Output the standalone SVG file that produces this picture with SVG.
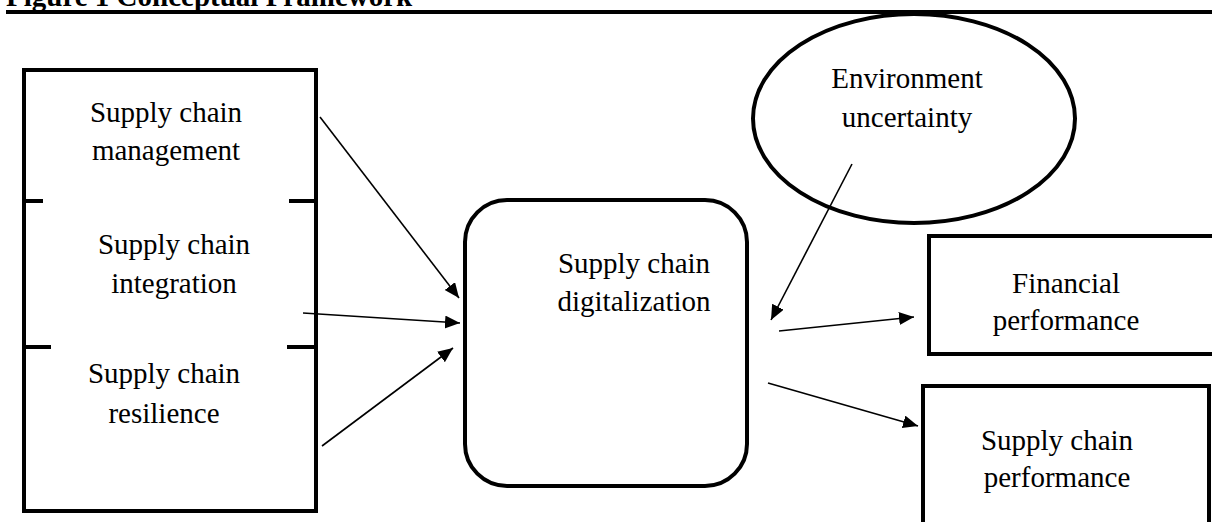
<svg xmlns="http://www.w3.org/2000/svg" width="1212" height="522" viewBox="0 0 1212 522">
<style>
text{font-family:"Liberation Serif","Times New Roman",serif;font-size:29px;fill:#000;text-anchor:middle}
.title{font-weight:bold;text-anchor:start}
.box{fill:#fff;stroke:#000;stroke-width:4}
.tick{stroke:#000;stroke-width:4;fill:none}
.conn{stroke:#000;stroke-width:1.6;fill:none;marker-end:url(#ah)}
</style>
<defs>
<marker id="ah" markerUnits="userSpaceOnUse" markerWidth="18" markerHeight="16" refX="15" refY="6.5" orient="auto">
<path d="M0,0 L15,6.5 L0,13 Z" fill="#000"/>
</marker>
</defs>
<rect width="1212" height="522" fill="#fff"/>
<g id="title">
<text class="title" x="6" y="6">Figure 1 Conceptual Framework</text>
<line x1="6" y1="12" x2="1212" y2="12" stroke="#000" stroke-width="4"/>
</g>
<g id="left-group">
<rect class="box" x="24" y="70" width="292" height="441"/>
<path class="tick" d="M24,201 H43 M289,201 H316 M24,347 H51 M287,347 H316"/>
</g>
<g id="scm">
<text x="166" y="122">Supply chain</text>
<text x="166" y="160">management</text>
</g>
<g id="sci">
<text x="174" y="254">Supply chain</text>
<text x="174" y="293">integration</text>
</g>
<g id="scr">
<text x="164" y="383">Supply chain</text>
<text x="164" y="423">resilience</text>
</g>
<g id="scd">
<rect class="box" x="465" y="200" width="282" height="286" rx="42" ry="42"/>
<text x="634" y="273">Supply chain</text>
<text x="634" y="311">digitalization</text>
</g>
<g id="eu">
<ellipse class="box" cx="914" cy="118.5" rx="161" ry="104.5"/>
<text x="907" y="88">Environment</text>
<text x="907" y="127">uncertainty</text>
</g>
<g id="fp">
<rect class="box" x="929" y="236" width="300" height="118"/>
<text x="1066" y="293">Financial</text>
<text x="1066" y="330">performance</text>
</g>
<g id="scp">
<rect class="box" x="923" y="386" width="286" height="150"/>
<text x="1057" y="450">Supply chain</text>
<text x="1057" y="487">performance</text>
</g>
<g id="connectors">
<line class="conn" x1="320" y1="117" x2="459" y2="298"/>
<line class="conn" x1="303" y1="313" x2="460" y2="323"/>
<line class="conn" x1="322" y1="446" x2="453" y2="348"/>
<line class="conn" x1="852" y1="164" x2="771" y2="320"/>
<line class="conn" x1="779" y1="331" x2="914" y2="317"/>
<line class="conn" x1="768" y1="383" x2="918" y2="426"/>
</g>
</svg>
